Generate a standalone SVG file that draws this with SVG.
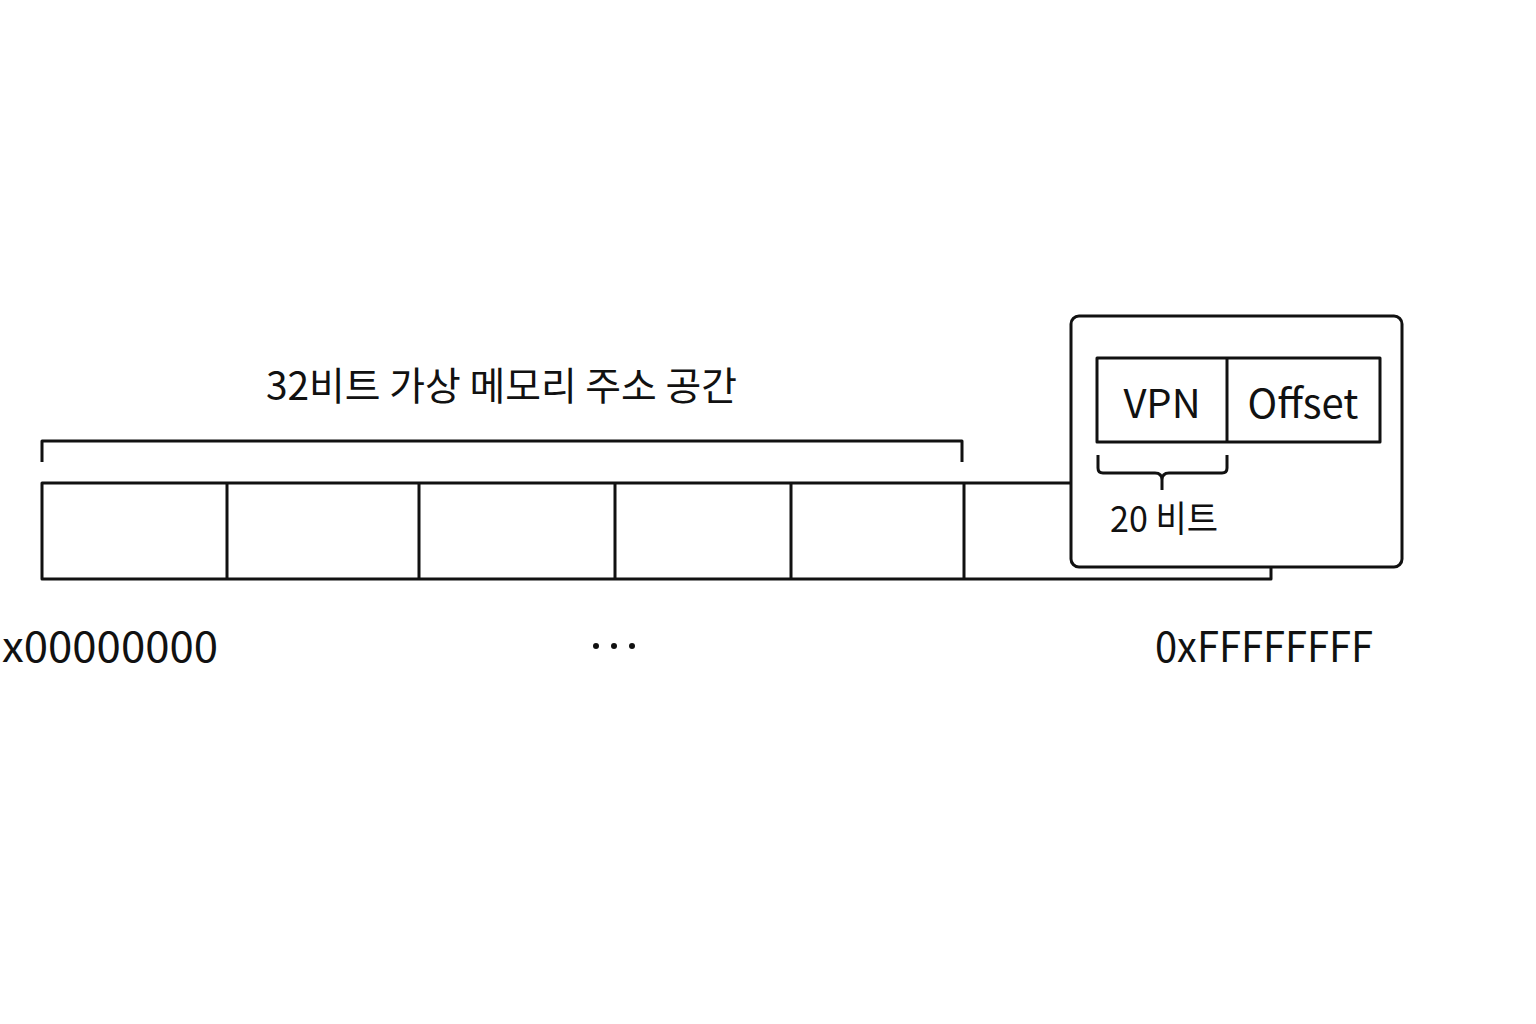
<svg xmlns="http://www.w3.org/2000/svg" width="1536" height="1024" viewBox="0 0 1536 1024">
<style>
.ln{fill:none;stroke:#111;stroke-width:3;stroke-linejoin:round}
.t{font-family:"Noto Sans CJK KR","Noto Sans",sans-serif;fill:#111}
</style>
<rect width="1536" height="1024" fill="#fff"/>
<g id="title">
<text class="t" x="266" y="400" font-size="39" textLength="471" lengthAdjust="spacingAndGlyphs">32비트 가상 메모리 주소 공간</text>
<path class="ln" d="M42,462 V441 H962 V462"/>
</g>
<g id="memory">
<path class="ln" d="M1071,483 H42 V579 H1271 V567"/>
<path class="ln" d="M227,483 V579 M419,483 V579 M615,483 V579 M791,483 V579 M964,483 V579"/>
</g>
<g id="labels">
<text class="t" x="2" y="662" font-size="42" textLength="216" lengthAdjust="spacingAndGlyphs">x00000000</text>
<circle cx="596" cy="646" r="3" fill="#111"/>
<circle cx="614" cy="646" r="3" fill="#111"/>
<circle cx="632" cy="646" r="3" fill="#111"/>
<text class="t" x="1155" y="662" font-size="42" textLength="218" lengthAdjust="spacingAndGlyphs">0xFFFFFFFF</text>
</g>
<g id="address-box">
<rect class="ln" x="1071" y="316" width="331" height="251" rx="8" fill="#fff"/>
<rect class="ln" x="1097" y="358" width="283" height="84"/>
<path class="ln" d="M1227,358 V442"/>
<text class="t" x="1162" y="418" font-size="40" text-anchor="middle">VPN</text>
<text class="t" x="1303" y="418" font-size="40" text-anchor="middle">Offset</text>
<path class="ln" d="M1098,455 V468 Q1098,473 1103,473 H1155 Q1162,473 1162,480 V490 M1162,480 Q1162,473 1169,473 H1222 Q1227,473 1227,468 V455"/>
<text class="t" x="1110" y="532" font-size="36" textLength="108" lengthAdjust="spacingAndGlyphs">20 비트</text>
</g>
</svg>
